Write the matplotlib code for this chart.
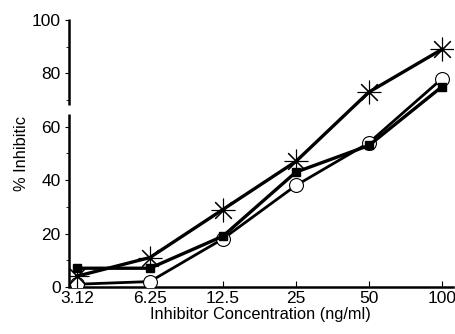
import matplotlib
matplotlib.use("Agg")
import matplotlib.pyplot as plt
from matplotlib.lines import Line2D

categories = ["3.12", "6.25", "12.5", "25", "50", "100"]
star_vals = [4, 11, 29, 47, 73, 89]
square_vals = [7, 7, 19, 43, 53, 75]
circle_vals = [1, 2, 18, 38, 54, 78]
yticks = [0, 20, 40, 60, 80, 100]

plt.rcParams['font.family'] = ['Liberation Sans', 'DejaVu Sans']

fig = plt.figure(figsize=(4.56, 3.34), dpi=100)
ax = fig.add_axes([0.151, 0.141, 0.842, 0.799])
x = list(range(len(categories)))

ax.plot(x, circle_vals, color='black', lw=2.0, marker='o', ms=10,
        mfc='white', mec='black', mew=0.8, zorder=3)
ax.plot(x, square_vals, color='black', lw=2.4, marker='s', ms=6,
        mfc='black', mec='black', zorder=4)
ax.plot(x, star_vals, color='black', lw=2.4, marker=(8, 2, 0), ms=17,
        mec='black', mew=0.8, zorder=5)

ax.set_xlim(-0.11, 5.15)
ax.set_ylim(0, 100)
ax.set_xticks(x)
ax.set_xticklabels(categories, fontsize=12.5)
ax.set_yticks(yticks)
ax.set_yticklabels([str(v) for v in yticks], fontsize=12.5)
ax.set_yticks(range(0, 101, 10), minor=True)
ax.tick_params(axis='y', which='major', direction='out', length=3, width=0.8, pad=3)
ax.tick_params(axis='y', which='minor', direction='out', length=2, width=0.6)
ax.tick_params(axis='x', which='major', direction='in', length=4, width=0.8, pad=3)

for s in ['top', 'right', 'left']:
    ax.spines[s].set_visible(False)
ax.spines['bottom'].set_linewidth(1.8)

# broken left spine
for y0, y1 in [(0, 0.648), (0.68, 1.005)]:
    ax.add_line(Line2D([0, 0], [y0, y1], transform=ax.transAxes, color='black',
                       lw=1.8, clip_on=False, solid_capstyle='butt'))

ax.set_xlabel("Inhibitor Concentration (ng/ml)", fontsize=11.8, labelpad=1)
ax.set_ylabel("% Inhibitic", fontsize=11.8, labelpad=2)

fig.savefig("out.png", dpi=100)
